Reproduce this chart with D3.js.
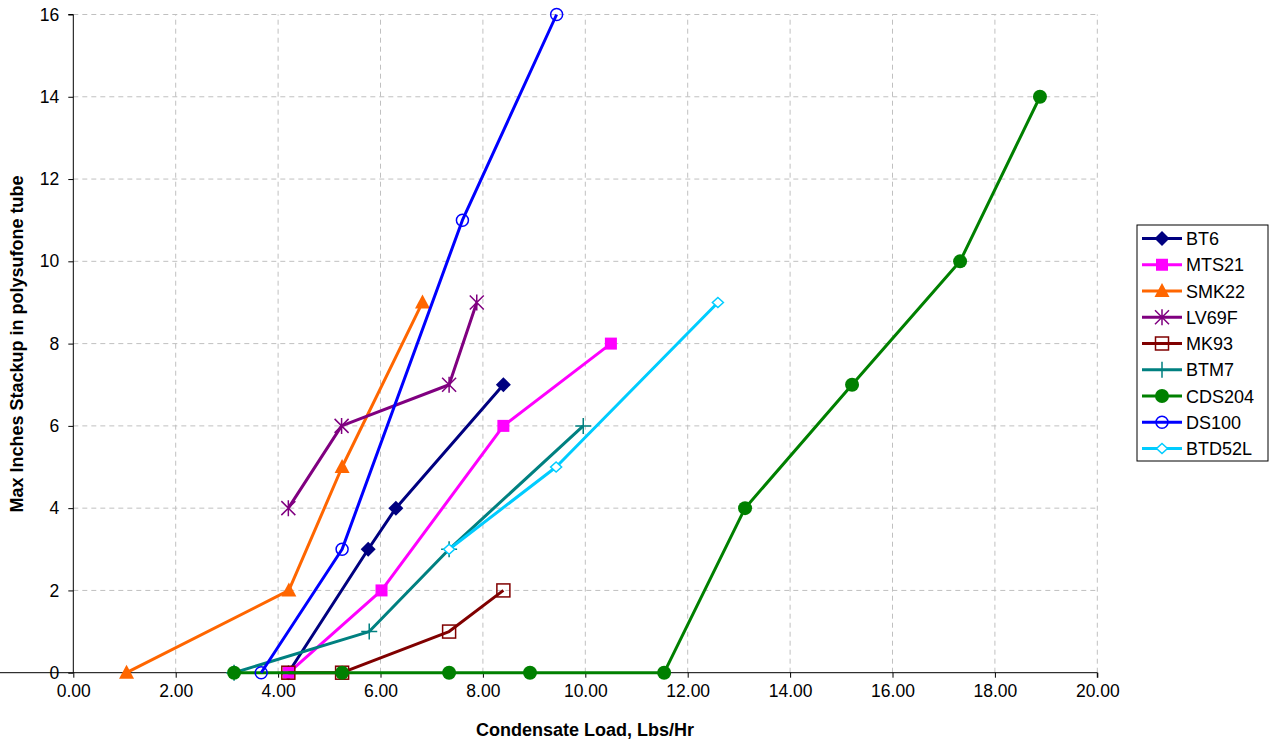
<!DOCTYPE html>
<html><head><meta charset="utf-8">
<script src="https://cdn.jsdelivr.net/npm/d3@7"></script>
<style>body{margin:0;background:#fff}svg{display:block}text{font-family:"Liberation Sans",Arial,sans-serif}</style>
</head><body>
<svg id="c" width="1273" height="742"></svg>
<script>
const seriesNames = ["BT6","MTS21","SMK22","LV69F","MK93","BTM7","CDS204","DS100","BTD52L"];
const BT6 = [[4.2,0],[5.76,3],[6.3,4],[8.4,7]];
const MTS21 = [[4.21,0],[6.02,2],[8.4,6],[10.5,8]];
const SMK22 = [[1.04,0],[4.21,2],[5.25,5],[6.82,9]];
const LV69F = [[4.2,4],[5.24,6],[7.34,7],[7.88,9]];
const MK93 = [[4.2,0],[5.25,0],[7.34,1],[8.4,2]];
const BTM7 = [[3.14,0],[5.78,1],[7.34,3],[9.96,6]];
const CDS204 = [[3.14,0],[5.25,0],[7.34,0],[8.92,0],[11.54,0],[13.12,4],[15.21,7],[17.32,10],[18.88,14]];
const DS100 = [[3.67,0],[5.25,3],[7.6,11],[9.44,16]];
const BTD52L = [[7.34,3],[9.43,5],[12.59,9]];
const xTicks = [0,2,4,6,8,10,12,14,16,18,20];
const yTicks = [0,2,4,6,8,10,12,14,16];

const seriesData = [BT6,MTS21,SMK22,LV69F,MK93,BTM7,CDS204,DS100,BTD52L];
const colors = ["#000080","#ff00ff","#ff6600","#800080","#800000","#008080","#008000","#0000ff","#00ccff"];
const markers = ["diamond","square","triangle","asterisk","opensquare","plus","circle","opencircle","opendiamond"];

const svg = d3.select("#c");
const x = d3.scaleLinear().domain([0,20]).range([73.3,1097.3]);
const y = d3.scaleLinear().domain([0,16]).range([672.7,14.5]);

// grid
const g = svg.append("g");
g.selectAll(".vg").data(xTicks.filter(d=>d>0)).join("line")
  .attr("x1",d=>x(d)).attr("x2",d=>x(d)).attr("y1",y(0)).attr("y2",y(16))
  .attr("stroke","#c0c0c0").attr("stroke-dasharray","5,4").attr("stroke-width",1);
g.selectAll(".hg").data(yTicks.filter(d=>d>0)).join("line")
  .attr("x1",x(0)).attr("x2",x(20)).attr("y1",d=>y(d)).attr("y2",d=>y(d))
  .attr("stroke","#c0c0c0").attr("stroke-dasharray","5,4").attr("stroke-width",1);

// axes
const xa = svg.append("g").attr("transform",`translate(0,${y(0)})`)
  .call(d3.axisBottom(x).tickValues(xTicks).tickFormat(d3.format(".2f")).tickSize(5).tickPadding(7));
const ya = svg.append("g").attr("transform",`translate(${x(0)},0)`)
  .call(d3.axisLeft(y).tickValues(yTicks).tickFormat(d3.format("d")).tickSize(5).tickPadding(9));
[xa,ya].forEach(a=>{
  a.select(".domain").attr("stroke","#000").attr("stroke-width",1);
  a.selectAll(".tick line").attr("stroke","#000");
  a.selectAll("text").attr("font-size",17.5).attr("fill","#000").style("font-family",'"Liberation Sans",Arial,sans-serif');
});
ya.select(".domain").attr("d",`M-5,${y(16)}H0V${y(0)}`);
xa.select(".domain").attr("d",`M0,0V0H${x(20)}V5`);

const line = d3.line().x(d=>x(d[0])).y(d=>y(d[1]));

function drawMarker(sel, type, color, cx, cy){
  const m = sel.append("g").attr("transform",`translate(${cx},${cy})`);
  switch(type){
    case "diamond": m.append("path").attr("d","M0,-7.5L7.5,0L0,7.5L-7.5,0Z").attr("fill",color); break;
    case "square": m.append("rect").attr("x",-6).attr("y",-6).attr("width",12).attr("height",12).attr("fill",color); break;
    case "triangle": m.append("path").attr("d","M0,-8L7.5,6L-7.5,6Z").attr("fill",color); break;
    case "asterisk": m.append("path").attr("d","M-7,-7L7,7M-7,7L7,-7M0,-8V8").attr("stroke",color).attr("stroke-width",1.5).attr("fill","none"); break;
    case "opensquare": m.append("rect").attr("x",-6.5).attr("y",-6.5).attr("width",13).attr("height",13).attr("fill","none").attr("stroke",color).attr("stroke-width",1.5); break;
    case "plus": m.append("path").attr("d","M-8,0H8M0,-8V8").attr("stroke",color).attr("stroke-width",1.5); break;
    case "circle": m.append("circle").attr("r",7).attr("fill",color); break;
    case "opencircle": m.append("circle").attr("r",6).attr("fill","none").attr("stroke",color).attr("stroke-width",1.5); break;
    case "opendiamond": m.append("path").attr("d","M0,-5L5.5,0L0,5L-5.5,0Z").attr("fill","#fff").attr("stroke",color).attr("stroke-width",1.5); break;
  }
}

seriesData.forEach((data,i)=>{
  const sg = svg.append("g");
  sg.append("path").datum(data).attr("d",line).attr("fill","none").attr("stroke",colors[i]).attr("stroke-width",3).attr("stroke-linejoin","round");
  data.forEach(d=>drawMarker(sg, markers[i], colors[i], x(d[0]), y(d[1])));
});

// axis titles
svg.append("text").attr("x",585).attr("y",736).attr("text-anchor","middle").attr("font-weight","bold").attr("font-size",18).text("Condensate Load, Lbs/Hr");
svg.append("text").attr("transform","translate(23,344) rotate(-90)").attr("text-anchor","middle").attr("font-weight","bold").attr("font-size",18).text("Max Inches Stackup in polysufone tube");

// legend
const lg = svg.append("g");
lg.append("rect").attr("x",1137).attr("y",225).attr("width",131).attr("height",236).attr("fill","#fff").attr("stroke","#000").attr("stroke-width",1);
seriesNames.forEach((n,i)=>{
  const ly = 238.5 + i*26.25;
  lg.append("line").attr("x1",1142).attr("x2",1182).attr("y1",ly).attr("y2",ly).attr("stroke",colors[i]).attr("stroke-width",3);
  drawMarker(lg, markers[i], colors[i], 1162, ly);
  lg.append("text").attr("x",1186).attr("y",ly+6.5).attr("font-size",18).text(n);
});
</script>
</body></html>
